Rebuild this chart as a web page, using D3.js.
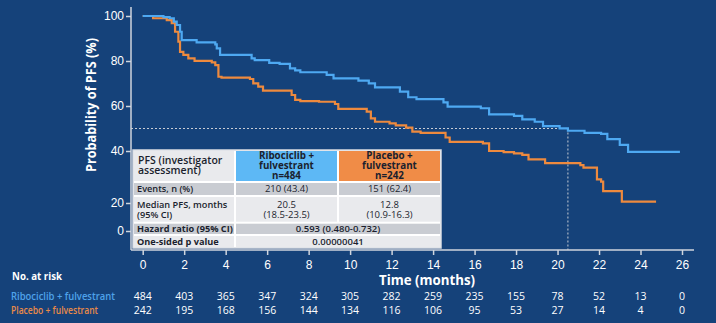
<!DOCTYPE html>
<html><head><meta charset="utf-8">
<script src="https://cdn.jsdelivr.net/npm/d3@7"></script>
<style>
body{margin:0;background:#15427a;}
svg{display:block;font-family:"Open Sans","Noto Sans",sans-serif;}
</style>
</head><body><svg id="c" width="716" height="323"></svg>
<script>
// ---- data ----
const ribTimes=[0,1.0,1.3,1.5,1.64,1.8,1.88,2.6,3.5,3.57,3.73,5.25,5.4,6.1,6.6,7.1,7.35,7.6,8.87,9.2,10.4,10.9,11.2,12.4,12.8,13.2,14.5,14.7,16.3,16.7,17.9,18.3,18.9,19.3,20.1,20.5,21.3,22.1,22.4,23.0,23.4,25.9];
const ribSurv =[100,99.5,99,97.5,96,93,89.3,88.3,87.4,85.6,82.7,81.2,80.4,79.2,78.7,76.7,75.8,75.0,73.8,72.3,71.3,70.1,68.3,66.4,63.9,63.1,61.6,59.7,59.0,56.3,55.6,54.1,53.0,51.1,50.1,49.0,48.1,47.6,45.3,42.7,39.7,39.7];
const plaTimes=[0,0.5,1.16,1.4,1.56,1.72,1.8,1.96,2.2,2.5,3.33,3.5,3.65,3.8,5.17,5.33,5.57,5.8,7.18,7.35,7.6,8.5,9.27,9.43,10.8,11.0,11.2,11.9,12.2,12.7,13.0,13.4,14.6,14.8,16.4,16.7,17.4,17.9,18.3,18.6,19.4,21.1,21.25,21.9,22.1,22.2,23.1,24.75];
const plaSurv =[100,99,98.2,96.8,93,88.6,84.1,82.7,81.2,80.1,79.4,78.2,73,72.6,72,70.1,68.6,66.8,64.9,62.7,62.2,61.9,60.9,58.7,57.5,54.5,53.0,52.3,51.4,50.4,48.6,48.1,46.0,44.1,43.4,40.0,39.6,39.1,38.5,36.8,35.3,34.6,33.6,29.1,28.2,24.6,20.5,20.5];
const xTicks=[0,2,4,6,8,10,12,14,16,18,20,22,24,26];
const yTicks=[0,20,40,60,80,100];
const atRiskLabels=["Ribociclib + fulvestrant","Placebo + fulvestrant"];
const atRiskRib=[484,403,365,347,324,305,282,259,235,155,78,52,13,0];
const atRiskPla=[242,195,168,156,144,134,116,106,95,53,27,14,4,0];
const medianLevel=50, medianTime=20.5;
const tableHead=[["PFS (investigator","assessment)"],["Ribociclib +","fulvestrant","n=484"],["Placebo +","fulvestrant","n=242"]];
const rowLabels=[["Events, n (%)"],["Median PFS, months","(95% CI)"],["Hazard ratio (95% CI)"],["One-sided p value"]];
const ribCells=[["210 (43.4)"],["20.5","(18.5-23.5)"]];
const plaCells=[["151 (62.4)"],["12.8","(10.9-16.3)"]];
const spanCells=[["0.593 (0.480-0.732)"],["0.00000041"]];

// ---- colors ----
const BLUE="#4ea9f2", ORANGE="#ee8a3e", AX="#cfd5de";

const svg=d3.select("#c");
svg.append("rect").attr("width",716).attr("height",323).attr("fill","#15427a");

const x=d3.scaleLinear().domain([0,26]).range([142.7,682]);
const y=d3.scaleLinear().domain([0,20,40,100]).range([231,203,151,16]);

// axes
const gx=svg.append("g").attr("transform","translate(0,250)")
  .call(d3.axisBottom(x).tickValues(xTicks).tickSize(5).tickPadding(5).tickSizeOuter(0));
gx.select(".domain").remove();
gx.selectAll(".tick line").attr("stroke",AX).attr("stroke-width",1.5);
gx.selectAll(".tick text").attr("fill","#fff").attr("font-size",12);
svg.append("line").attr("x1",131).attr("x2",694).attr("y1",250).attr("y2",250).attr("stroke",AX).attr("stroke-width",1.5);

const gy=svg.append("g").attr("transform","translate(131,0)")
  .call(d3.axisLeft(y).tickValues(yTicks).tickSize(5).tickPadding(2).tickSizeOuter(0));
gy.select(".domain").remove();
gy.selectAll(".tick line").attr("stroke",AX).attr("stroke-width",1.5);
gy.selectAll(".tick text").attr("fill","#fff").attr("font-size",12);
svg.append("line").attr("x1",131).attr("x2",131).attr("y1",7).attr("y2",250).attr("stroke",AX).attr("stroke-width",1.5);

svg.append("text").attr("transform","translate(96,105) rotate(-90)").attr("text-anchor","middle")
  .attr("fill","#fff").attr("font-weight",700).attr("font-size",14)
  .attr("textLength",134).attr("lengthAdjust","spacingAndGlyphs").text("Probability of PFS (%)");
svg.append("text").attr("x",427).attr("y",285).attr("text-anchor","middle")
  .attr("fill","#fff").attr("font-weight",700).attr("font-size",14)
  .attr("textLength",96).attr("lengthAdjust","spacingAndGlyphs").text("Time (months)");

// median dashed lines
svg.append("line").attr("x1",131).attr("x2",x(medianTime)).attr("y1",y(medianLevel)).attr("y2",y(medianLevel))
  .attr("stroke","#c8ccd4").attr("stroke-width",1).attr("stroke-dasharray","2,2");
svg.append("line").attr("x1",x(medianTime)).attr("x2",x(medianTime)).attr("y1",y(medianLevel)).attr("y2",250)
  .attr("stroke","#c8ccd4").attr("stroke-width",1).attr("stroke-dasharray","2,2");

// curves
const line=d3.line().x(d=>x(d[0])).y(d=>y(d[1])).curve(d3.curveStepAfter);
svg.append("path").datum(d3.zip(plaTimes,plaSurv)).attr("d",line).attr("fill","none").attr("stroke",ORANGE).attr("stroke-width",2.2);
svg.append("path").datum(d3.zip(ribTimes,ribSurv)).attr("d",line).attr("fill","none").attr("stroke",BLUE).attr("stroke-width",2.2);

// table
const T=svg.append("g");
const cx=[133,235,338,441];
const ry=[150,182,196,222.7,235,248];
const LIGHT="#e9eaed", GREY="#c9ccd2", TXT="#1b1f2e";
T.append("rect").attr("x",cx[0]).attr("y",ry[0]).attr("width",cx[3]-cx[0]).attr("height",ry[5]-ry[0]).attr("fill","#fff").attr("stroke","#d9dce2").attr("stroke-width",1.5);
const cellFill=(c,r)=>{ if(r===0) return c===1?"#5db8f5":c===2?"#f08c47":LIGHT; return (r%2===1)?GREY:LIGHT; };
for(let r=0;r<5;r++){
  if(r>=3){
    T.append("rect").attr("x",cx[0]+1).attr("y",ry[r]+1).attr("width",cx[1]-cx[0]-2).attr("height",ry[r+1]-ry[r]-2).attr("fill",cellFill(0,r));
    T.append("rect").attr("x",cx[1]+1).attr("y",ry[r]+1).attr("width",cx[3]-cx[1]-2).attr("height",ry[r+1]-ry[r]-2).attr("fill",cellFill(1,r));
  } else {
    for(let c=0;c<3;c++){
      T.append("rect").attr("x",cx[c]+1).attr("y",ry[r]+1).attr("width",cx[c+1]-cx[c]-2).attr("height",ry[r+1]-ry[r]-2).attr("fill",cellFill(c,r));
    }
  }
}
function lines(g,arr,xx,yc,anchor,weight,lh,fs){
  const n=arr.length; const y0=yc-(n-1)*lh/2;
  arr.forEach((s,i)=>g.append("text").attr("x",xx).attr("y",y0+i*lh).attr("dy","0.35em")
    .attr("text-anchor",anchor).attr("fill",TXT).attr("font-size",fs||9).attr("font-weight",weight).text(s));
}
lines(T,tableHead[0],138,165.7,"start",600,10,10.5);
lines(T,tableHead[1],(cx[1]+cx[2])/2,165.7,"middle",700,10,9.8);
lines(T,tableHead[2],(cx[2]+cx[3])/2,165.7,"middle",700,10,9.8);
rowLabels.forEach((lab,i)=>{
  const yc=(ry[i+1]+ry[i+2])/2;
  lines(T,lab,137,yc,"start",i>=2?700:600,10,9.2);
});
ribCells.forEach((v,i)=>lines(T,v,(cx[1]+cx[2])/2,(ry[i+1]+ry[i+2])/2,"middle",400,10,9.5));
plaCells.forEach((v,i)=>lines(T,v,(cx[2]+cx[3])/2,(ry[i+1]+ry[i+2])/2,"middle",400,10,9.5));
spanCells.forEach((v,i)=>lines(T,v,(cx[1]+cx[3])/2,(ry[i+3]+ry[i+4])/2,"middle",600,10,9.5));

// at risk
svg.append("text").attr("x",12).attr("y",280).attr("fill","#fff").attr("font-weight",700).attr("font-size",11)
  .attr("textLength",50).attr("lengthAdjust","spacingAndGlyphs").text("No. at risk");
const labW=[104,87];
[[atRiskRib,"#4fa3ea",300],[atRiskPla,"#ea8a48",314]].forEach(([arr,col,yy],k)=>{
  svg.append("text").attr("x",11).attr("y",yy).attr("fill",col).attr("font-size",10.5).attr("font-weight",600)
    .attr("textLength",labW[k]).attr("lengthAdjust","spacingAndGlyphs").text(atRiskLabels[k]);
  svg.append("g").selectAll("text").data(arr).join("text")
    .attr("x",(d,i)=>x(xTicks[i])).attr("y",yy).attr("text-anchor","middle")
    .attr("fill","#fff").attr("font-size",10.5).text(d=>d);
});
</script></body></html>
